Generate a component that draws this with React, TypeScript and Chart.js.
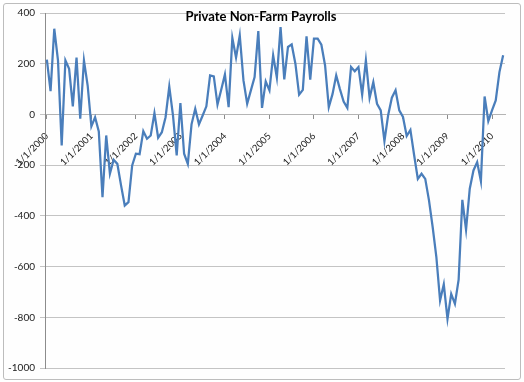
import React, { useEffect, useRef } from "react";
import { Chart, registerables } from "chart.js";

Chart.register(...registerables);

const TITLE = "Private Non-Farm Payrolls";
const YEARS = [2000, 2001, 2002, 2003, 2004, 2005, 2006, 2007, 2008, 2009, 2010];
const TICK_LABELS = YEARS.map((y) => `1/1/${y}`);

const y2000 = [216, 92, 338, 213, -122, 213, 180, 32, 224, -17, 213, 114];
const y2001 = [-47, -11, -67, -326, -83, -234, -179, -195, -280, -359, -346, -201];
const y2002 = [-155, -157, -66, -96, -83, 5, -92, -70, -11, 110, -4, -162];
const y2003 = [45, -155, -195, -39, 22, -39, -4, 32, 154, 150, 39, 97];
const y2004 = [158, 29, 302, 224, 312, 134, 42, 95, 147, 329, 26, 130];
const y2005 = [95, 233, 145, 344, 138, 266, 276, 200, 78, 97, 308, 137];
const y2006 = [299, 299, 275, 193, 29, 80, 154, 100, 51, 26, 187, 170];
const y2007 = [187, 78, 213, 65, 127, 42, 16, -105, -3, 66, 95, 16];
const y2008 = [-10, -85, -61, -160, -254, -234, -254, -338, -444, -563, -734, -670];
const y2009 = [-806, -708, -747, -652, -337, -455, -293, -221, -188, -263, 71, -26];
const y2010 = [16, 55, 167, 233];

const SERIES = [y2000, y2001, y2002, y2003, y2004, y2005, y2006, y2007, y2008, y2009, y2010];

const VALUES: number[] = [];
const CATEGORIES: string[] = [];
SERIES.forEach((arr, yi) => {
  arr.forEach((v, mi) => {
    VALUES.push(v);
    CATEGORIES.push(`${mi + 1}/1/${YEARS[yi]}`);
  });
});

const FONT = "Lato, 'Open Sans', sans-serif";

const titlePlugin = {
  id: "overlayTitle",
  afterDraw(chart: any) {
    const ctx = chart.ctx;
    ctx.save();
    ctx.font = `bold 13px ${FONT}`;
    ctx.fillStyle = "#000";
    ctx.textAlign = "center";
    ctx.textBaseline = "middle";
    ctx.fillText(TITLE, 261, 17);
    ctx.restore();
  },
};

export default function App() {
  const ref = useRef<HTMLCanvasElement | null>(null);

  useEffect(() => {
    if (!ref.current) return;
    const chart = new Chart(ref.current, {
      type: "line",
      data: {
        labels: CATEGORIES,
        datasets: [
          {
            label: TITLE,
            data: VALUES,
            borderColor: "#4a7ebb",
            backgroundColor: "#4a7ebb",
            borderWidth: 2.25,
            pointRadius: 0,
            tension: 0,
            fill: false,
          },
        ],
      },
      options: {
        animation: false,
        responsive: false,
        devicePixelRatio: 1,
        layout: { padding: { top: 13, right: 19, bottom: 14, left: 0 } },
        plugins: {
          legend: { display: false },
          title: { display: false },
          tooltip: { enabled: false },
        },
        scales: {
          x: {
            type: "category",
            position: { y: 0 } as any,
            offset: true,
            grid: {
              display: true,
              drawOnChartArea: false,
              drawTicks: true,
              tickLength: 4,
              color: "#8c8c8c",
            },
            border: { display: true, color: "#b4b4b4" },
            ticks: {
              autoSkip: false,
              maxRotation: 45,
              minRotation: 45,
              padding: 12,
              color: "#1a1a1a",
              font: { family: FONT, size: 9.5 },
              callback: (_v: any, index: number) => {
                const lab = CATEGORIES[index];
                return TICK_LABELS.includes(lab) ? lab : null;
              },
            },
          },
          y: {
            min: -1000,
            max: 400,
            afterFit: (s: any) => {
              s.width = 45;
            },
            grid: {
              color: "#c4c4c4",
              tickLength: 5,
              drawTicks: true,
            },
            border: { display: true, color: "#8c8c8c" },
            ticks: {
              stepSize: 200,
              padding: 5,
              color: "#1a1a1a",
              font: { family: FONT, size: 10 },
              callback: (v: any) => String(v),
            },
          },
        },
      },
      plugins: [titlePlugin],
    });
    return () => chart.destroy();
  }, []);

  return (
    <div style={{ position: "absolute", left: 0, top: 0, width: 524, height: 382, background: "#fff" }}>
      <div
        style={{
          position: "absolute",
          left: 3,
          top: 3,
          width: 518,
          height: 377,
          boxSizing: "border-box",
          border: "1px solid #bdbdbd",
          borderRadius: 3,
          background: "#fefefe",
        }}
      />
      <canvas
        ref={ref}
        width={524}
        height={382}
        style={{ position: "absolute", left: 0, top: 0, width: 524, height: 382 }}
      />
    </div>
  );
}
